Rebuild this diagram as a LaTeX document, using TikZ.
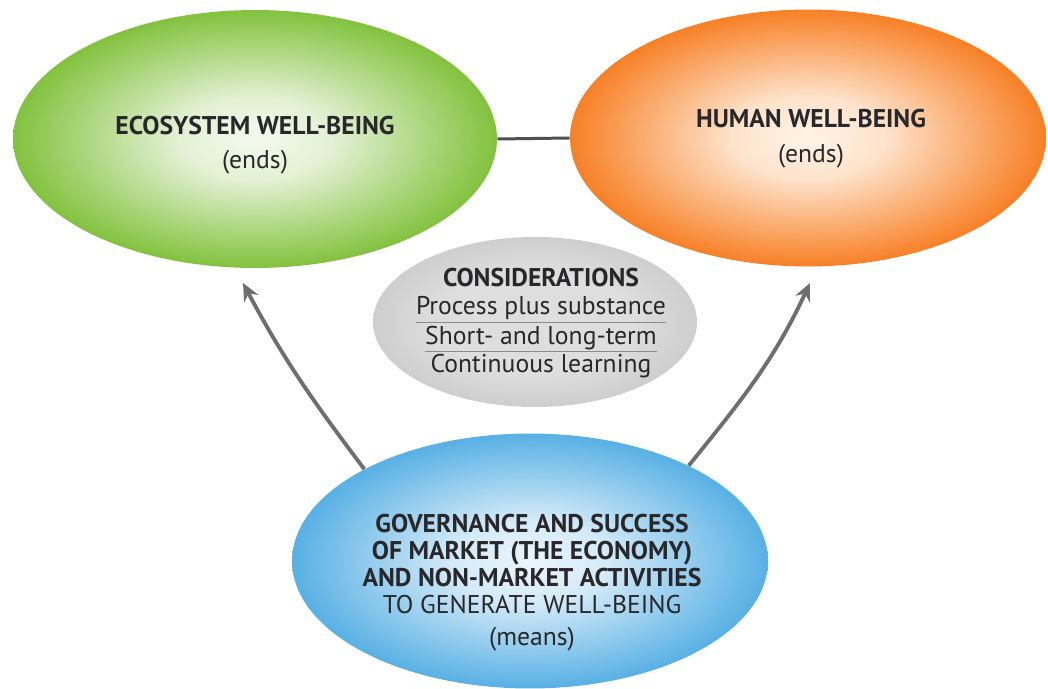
\documentclass[tikz,border=0pt]{standalone}
\usepackage{fontspec}
\setmainfont{PT Sans}
\usetikzlibrary{shapes.geometric,arrows.meta,calc}
\definecolor{gout}{RGB}{130,194,62}
\definecolor{gin}{RGB}{244,249,238}
\definecolor{oout}{RGB}{247,128,38}
\definecolor{oin}{RGB}{255,244,232}
\definecolor{bout}{RGB}{88,176,228}
\definecolor{bin}{RGB}{234,245,252}
\definecolor{cin}{RGB}{222,222,222}
\definecolor{cout}{RGB}{206,206,206}
\definecolor{txt}{RGB}{40,40,42}
\definecolor{arrgray}{RGB}{110,110,110}
\definecolor{linegray}{RGB}{80,80,80}
\pgfdeclareradialshading{gshade}{\pgfpoint{0bp}{0bp}}{color(0bp)=(gin); color(8bp)=(gin!85!gout); color(25bp)=(gout); color(50bp)=(gout)}
\pgfdeclareradialshading{oshade}{\pgfpoint{0bp}{0bp}}{color(0bp)=(oin); color(8bp)=(oin!85!oout); color(25bp)=(oout); color(50bp)=(oout)}
\pgfdeclareradialshading{bshade}{\pgfpoint{0bp}{0bp}}{color(0bp)=(bin); color(8bp)=(bin!85!bout); color(25bp)=(bout); color(50bp)=(bout)}
\pgfdeclareradialshading{cshade}{\pgfpoint{0bp}{0bp}}{color(0bp)=(cin); color(15bp)=(cin); color(25bp)=(cout); color(50bp)=(cout)}
\tikzset{
  blob/.style={ellipse, draw=none, inner sep=0pt},
  ttl/.style={text=txt, font=\fontsize{14.6}{17}\selectfont\bfseries, anchor=base, inner sep=0pt},
  sub/.style={text=txt, font=\fontsize{14.6}{17}\selectfont, anchor=base, inner sep=0pt},
  arr/.style={draw=arrgray, line width=2.2pt, -{Stealth[length=10pt,width=9pt]}},
  sep/.style={draw=black!45, line width=0.5pt},
}
\begin{document}
\begin{tikzpicture}[x=0.02cm,y=-0.02cm]
\useasboundingbox (0,0) rectangle (1048,689);
% ellipses
\node[blob, minimum width=9.68cm, minimum height=5.16cm, shading=gshade] (green) at (255,139) {};
\node[blob, minimum width=9.52cm, minimum height=5.14cm, shading=oshade] (orange) at (808,138) {};
\node[blob, minimum width=6.48cm, minimum height=3.4cm, shading=cshade] (gray) at (535,322) {};
\node[blob, minimum width=9.52cm, minimum height=5.1cm, shading=bshade] (blue) at (530,561) {};
% connector between ends
\draw[draw=linegray, line width=1.7pt] (green.east) -- (orange.west);
% arrows
\coordinate (gtip) at (243,283);
\coordinate (htip) at (810,283);
\draw[arr] (blue.151) to[out=127, in=-62] (gtip);
\draw[arr] (blue.31) to[out=51, in=-115] (htip);
% texts
\node[ttl] (gt1) at (255,135) {ECOSYSTEM WELL-BEING};
\node[sub] (gt2) at (255,169) {(ends)};
\node[ttl] (ot1) at (811,128) {HUMAN WELL-BEING};
\node[sub] (ot2) at (811,163) {(ends)};
\node[ttl] (c0) at (541,287) {CONSIDERATIONS};
\node[sub] (c1) at (541,315) {Process plus substance};
\node[sub] (c2) at (541,344) {Short- and long-term};
\node[sub] (c3) at (541,372) {Continuous learning};
\draw[sep] ([yshift=-4.5pt]c1.base west) -- ([yshift=-4.5pt]c1.base east);
\draw[sep] ([yshift=-4pt]c2.base west) -- ([yshift=-4pt]c2.base east);
\node[ttl] (b1) at (532,532) {GOVERNANCE AND SUCCESS};
\node[ttl] (b2) at (532,559) {OF MARKET (THE ECONOMY)};
\node[ttl] (b3) at (532,586) {AND NON-MARKET ACTIVITIES};
\node[sub] (b4) at (532,613) {TO GENERATE WELL-BEING};
\node[sub] (b5) at (532,645) {(means)};
\end{tikzpicture}
\end{document}
